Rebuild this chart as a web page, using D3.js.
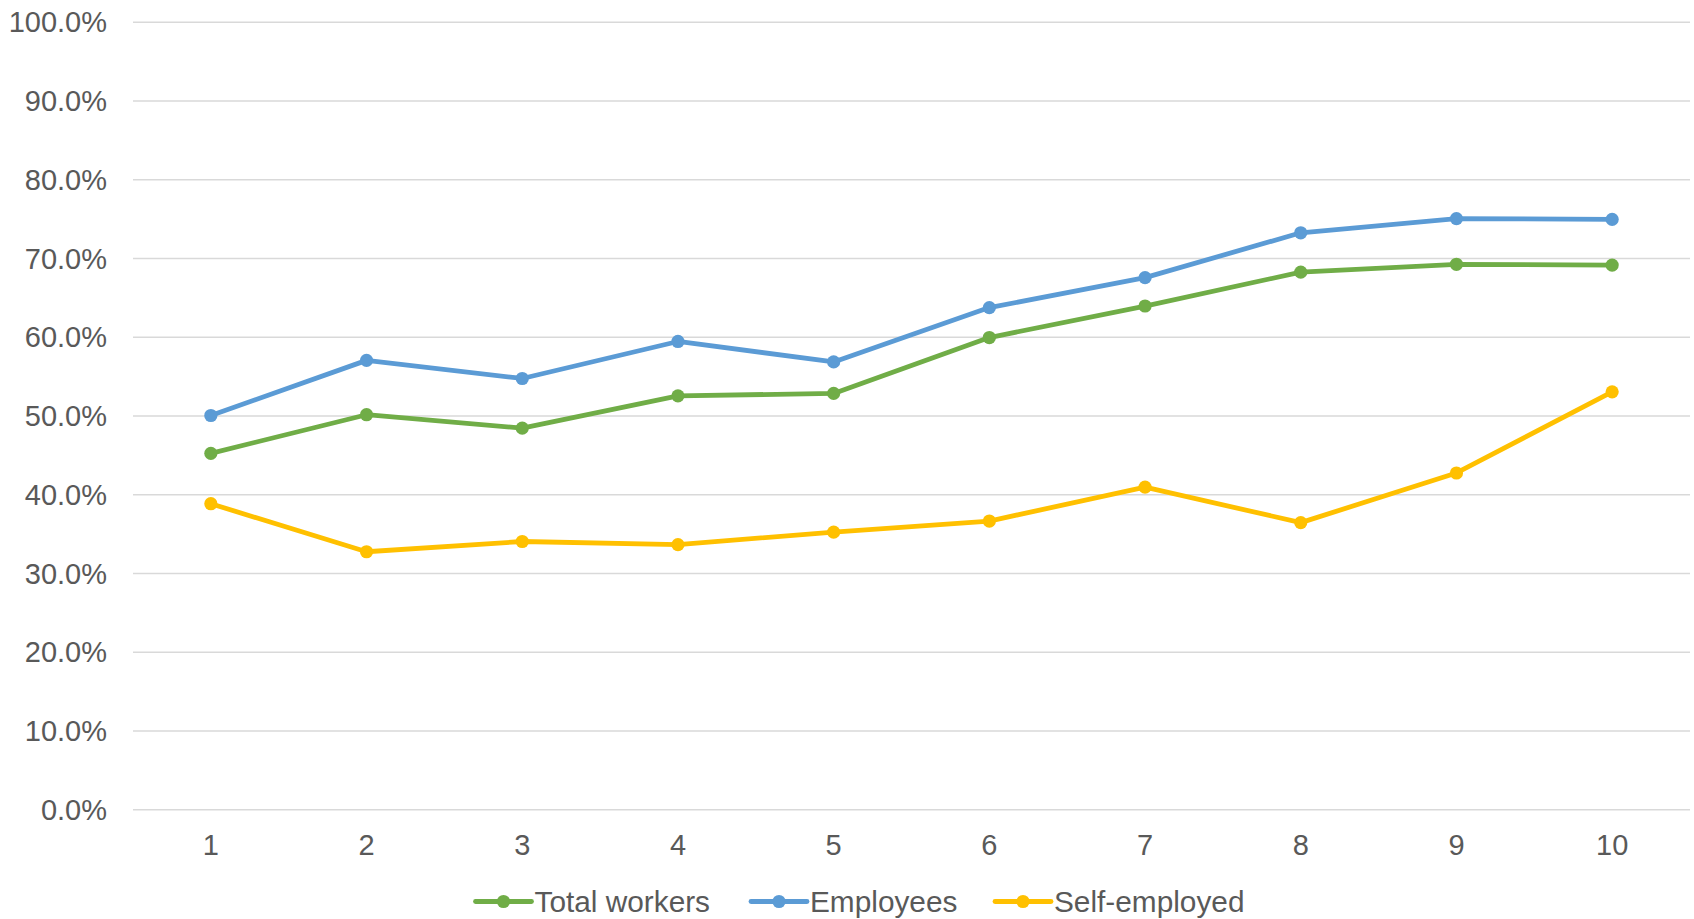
<!DOCTYPE html>
<html>
<head>
<meta charset="utf-8">
<script src="https://cdn.jsdelivr.net/npm/d3@7"></script>
<style>
  html, body { margin: 0; padding: 0; background: #ffffff; }
  svg { display: block; font-family: "Liberation Sans", Arial, sans-serif; }
</style>
</head>
<body>
<svg id="chart" width="1694" height="919"></svg>
<script>
// Categories along the x axis
const categories = ["1", "2", "3", "4", "5", "6", "7", "8", "9", "10"];

// Shares per category (percent)
const totalWorkers = [45.2, 50.1, 48.4, 52.5, 52.8, 59.9, 63.9, 68.2, 69.2, 69.1];
const employees    = [50.0, 57.0, 54.7, 59.4, 56.8, 63.7, 67.5, 73.2, 75.0, 74.9];
const selfEmployed = [38.8, 32.7, 34.0, 33.6, 35.2, 36.6, 40.9, 36.4, 42.7, 53.0];

const seriesNames  = ["Total workers", "Employees", "Self-employed"];
const seriesColors = ["#70AD47", "#5B9BD5", "#FFC000"];
const yTicks = [0, 10, 20, 30, 40, 50, 60, 70, 80, 90, 100];

const series = [totalWorkers, employees, selfEmployed].map((values, i) => ({
  name: seriesNames[i],
  color: seriesColors[i],
  values: values
}));

const svg = d3.select("#chart");
const margin = { left: 133, right: 4, top: 21.7, bottom: 109.7 };
const width = 1694, height = 919;

const x = d3.scaleBand()
  .domain(categories)
  .range([margin.left, width - margin.right])
  .padding(0);

const y = d3.scaleLinear()
  .domain([0, 100])
  .range([height - margin.bottom, margin.top]);

const textColor = "#595959";
const axisFont = 29;
const legendFont = 29.8;

// Horizontal gridlines and y tick labels
const yAxis = d3.axisLeft(y)
  .tickValues(yTicks)
  .tickSize(-(width - margin.right - margin.left))
  .tickPadding(26)
  .tickFormat(d => d.toFixed(1) + "%");

const gy = svg.append("g")
  .attr("transform", `translate(${margin.left},0)`)
  .call(yAxis);
gy.select(".domain").remove();
gy.selectAll(".tick line")
  .attr("stroke", "#D9D9D9")
  .attr("stroke-width", 1.6);
gy.selectAll(".tick text")
  .attr("fill", textColor)
  .attr("font-size", axisFont)
  .attr("font-family", "Liberation Sans, Arial, sans-serif")
  .attr("dy", "0.35em");

// Category labels
const xAxis = d3.axisBottom(x)
  .tickSize(0)
  .tickPadding(25);

const gx = svg.append("g")
  .attr("transform", `translate(0,${y(0)})`)
  .call(xAxis);
gx.select(".domain").remove();
gx.selectAll(".tick text")
  .attr("fill", textColor)
  .attr("font-size", axisFont)
  .attr("font-family", "Liberation Sans, Arial, sans-serif");

const cx = c => x(c) + x.bandwidth() / 2;

const line = d3.line()
  .x((d, i) => cx(categories[i]))
  .y(d => y(d));

// Series lines with round markers
const g = svg.append("g");
series.forEach(s => {
  g.append("path")
    .datum(s.values)
    .attr("fill", "none")
    .attr("stroke", s.color)
    .attr("stroke-width", 4.8)
    .attr("stroke-linejoin", "round")
    .attr("stroke-linecap", "round")
    .attr("d", line);
  g.selectAll(null)
    .data(s.values)
    .enter()
    .append("circle")
    .attr("cx", (d, i) => cx(categories[i]))
    .attr("cy", d => y(d))
    .attr("r", 6.6)
    .attr("fill", s.color);
});

// Legend
const legendY = 901.5;
const legendStarts = [475.5, 751, 995];
const legend = svg.append("g");
series.forEach((s, i) => {
  const lx = legendStarts[i];
  const item = legend.append("g").attr("transform", `translate(${lx},${legendY})`);
  item.append("line")
    .attr("x1", 0).attr("x2", 56)
    .attr("y1", 0).attr("y2", 0)
    .attr("stroke", s.color)
    .attr("stroke-width", 4.8)
    .attr("stroke-linecap", "round");
  item.append("circle")
    .attr("cx", 28).attr("cy", 0).attr("r", 6.6)
    .attr("fill", s.color);
  item.append("text")
    .attr("x", 59)
    .attr("y", 0)
    .attr("dy", "0.35em")
    .attr("fill", textColor)
    .attr("font-size", legendFont)
    .text(s.name);
});
</script>
</body>
</html>
